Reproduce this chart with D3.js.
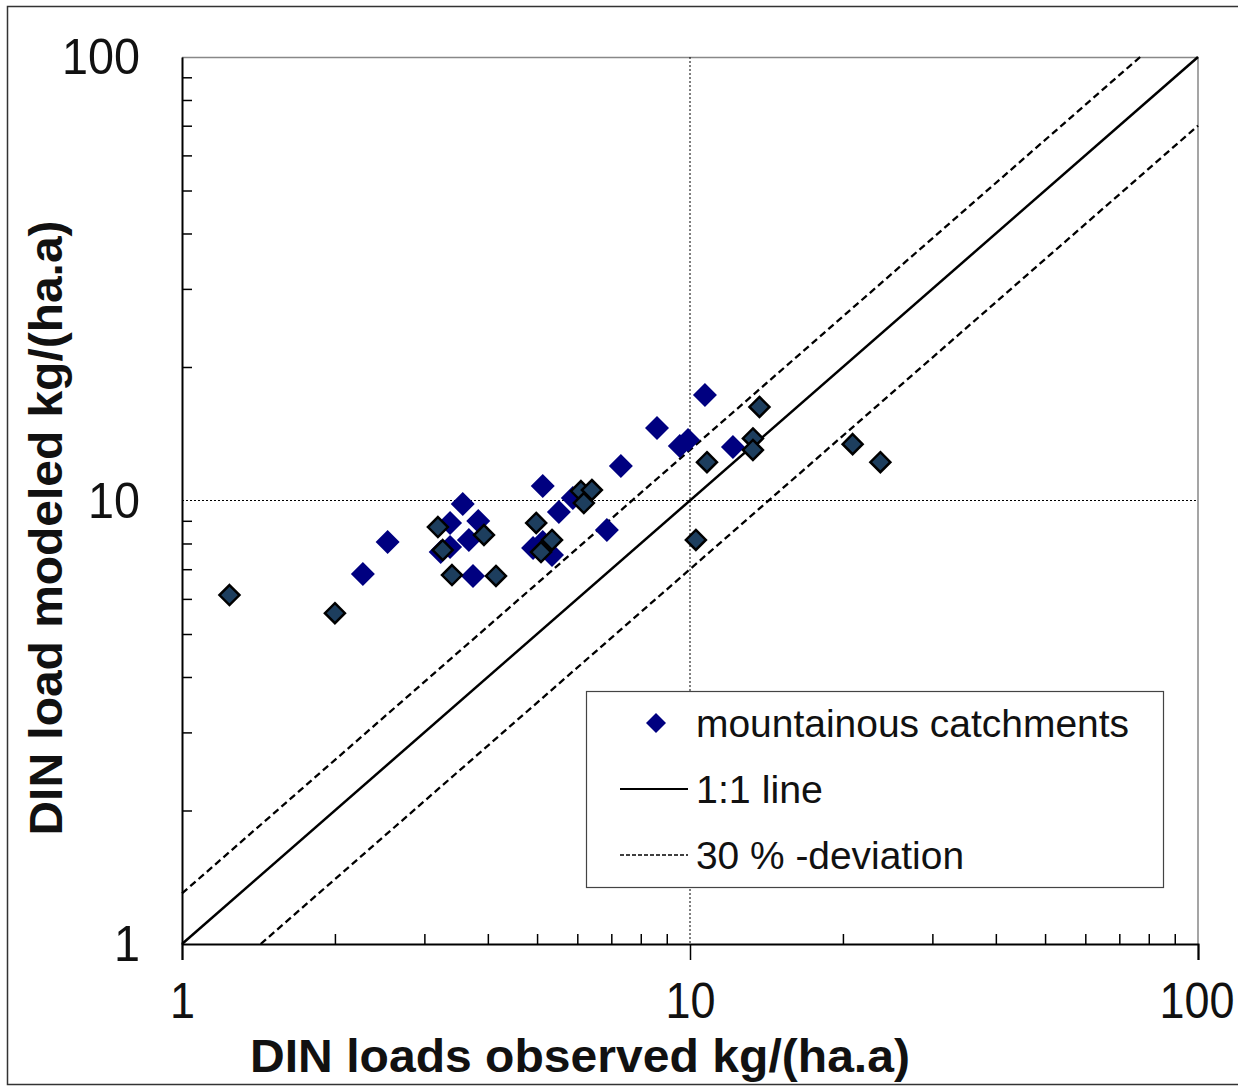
<!DOCTYPE html>
<html>
<head>
<meta charset="utf-8">
<script src="https://cdn.jsdelivr.net/npm/d3@7"></script>
<style>
  body { margin: 0; background: #fff; }
  svg text { font-family: "Liberation Sans", Arial, sans-serif; fill: #111; }
</style>
</head>
<body>
<div id="chart"></div>
<script>
// mountainous catchments (blue diamonds)
const mountObs = [2.27, 2.54, 3.57, 3.37, 3.83, 3.67, 3.23, 3.37, 3.74, 5.13, 5.88, 5.52, 6.86, 4.91, 5.13, 5.35, 7.31, 8.61, 9.55, 9.91, 10.7, 12.15];
const mountMod = [6.83, 8.06, 9.82, 8.90, 8.99, 8.15, 7.65, 7.86, 6.76, 10.78, 10.13, 9.42, 8.58, 7.81, 8.06, 7.54, 11.96, 14.57, 13.27, 13.69, 17.3, 13.2];

// other catchments (dark diamonds, not in legend)
const otherObs = [1.24, 2.00, 3.19, 3.93, 3.26, 3.40, 4.15, 4.98, 5.09, 5.35, 6.10, 6.41, 6.18, 10.27, 10.8, 13.7, 13.3, 13.3, 20.9, 23.7];
const otherMod = [6.12, 5.57, 8.71, 8.36, 7.73, 6.79, 6.76, 8.90, 7.65, 8.15, 10.5, 10.56, 9.87, 8.15, 12.2, 16.25, 13.8, 13.0, 13.4, 12.2];

const majorTicks = [1, 10, 100];
const minorTicks = [2, 3, 4, 5, 6, 7, 8, 9, 20, 30, 40, 50, 60, 70, 80, 90];
const deviation = 0.3;

const W = 1238, H = 1088;
const margin = { left: 182, right: 40, top: 57, bottom: 144 };
const iw = W - margin.left - margin.right;   // 1016
const ih = H - margin.top - margin.bottom;   // 887

const svg = d3.select("#chart").append("svg")
  .attr("width", W).attr("height", H);

// outer frame
svg.append("rect")
  .attr("x", 7.5).attr("y", 6.5)
  .attr("width", W).attr("height", 1078)
  .attr("fill", "none").attr("stroke", "#333").attr("stroke-width", 1.5);

const g = svg.append("g")
  .attr("transform", `translate(${margin.left}, ${margin.top})`);

const x = d3.scaleLog().domain([1, 100]).range([0, iw]);
const y = d3.scaleLog().domain([1, 100]).range([ih, 0]);

// top / right border
g.append("path")
  .attr("d", `M0,0.5H${iw}V${ih}`)
  .attr("fill", "none").attr("stroke", "#888").attr("stroke-width", 1.5);

// grid at 10
g.append("line")
  .attr("x1", x(10)).attr("x2", x(10)).attr("y1", 0).attr("y2", ih)
  .attr("stroke", "#000").attr("stroke-width", 1).attr("stroke-dasharray", "2,2");
g.append("line")
  .attr("x1", 0).attr("x2", iw).attr("y1", y(10)).attr("y2", y(10))
  .attr("stroke", "#000").attr("stroke-width", 1).attr("stroke-dasharray", "2,2");

// reference lines
const line = d3.line().x(d => x(d[0])).y(d => y(d[1]));
g.append("path")
  .attr("d", line([[1, 1], [100, 100]]))
  .attr("fill", "none").attr("stroke", "#000").attr("stroke-width", 2.5);
g.append("path")
  .attr("d", line([[1, 1 + deviation], [100 / (1 + deviation), 100]]))
  .attr("fill", "none").attr("stroke", "#000").attr("stroke-width", 2.3)
  .attr("stroke-dasharray", "7,4");
g.append("path")
  .attr("d", line([[1 / (1 - deviation), 1], [100, 100 * (1 - deviation)]]))
  .attr("fill", "none").attr("stroke", "#000").attr("stroke-width", 2.3)
  .attr("stroke-dasharray", "7,4");

// axes: major ticks outside (x), minor ticks inside
const digitW = 25;
const xMajor = d3.axisBottom(x).tickValues(majorTicks).tickSize(16).tickFormat(d3.format("d"));
g.append("g")
  .attr("class", "xAxis")
  .attr("transform", `translate(0, ${ih})`)
  .call(xMajor)
  .call(s => s.select(".domain").attr("stroke", "#000").attr("stroke-width", 2))
  .call(s => s.selectAll(".tick line").attr("stroke-width", 1.5))
  .selectAll("text")
    .attr("y", 74)
    .attr("dy", 0)
    .attr("x", d => d === 100 ? 36 : 0)
    .attr("text-anchor", d => d === 100 ? "end" : "middle")
    .attr("font-size", 50)
    .attr("textLength", d => String(d).length * digitW)
    .attr("lengthAdjust", "spacingAndGlyphs");

g.append("g")
  .attr("transform", `translate(0, ${ih})`)
  .call(d3.axisBottom(x).tickValues(minorTicks).tickSize(-10).tickFormat(""))
  .call(s => s.select(".domain").remove())
  .call(s => s.selectAll(".tick line").attr("stroke-width", 1.5));

const yMajor = d3.axisLeft(y).tickValues(majorTicks).tickSize(0).tickFormat(d3.format("d"));
g.append("g")
  .attr("class", "yAxis")
  .call(yMajor)
  .call(s => s.select(".domain").attr("stroke", "#000").attr("stroke-width", 2))
  .selectAll("text")
    .attr("x", -42)
    .attr("dy", "0.33em")
    .attr("font-size", 50)
    .attr("textLength", d => String(d).length * 26)
    .attr("lengthAdjust", "spacingAndGlyphs");

g.append("g")
  .call(d3.axisLeft(y).tickValues(minorTicks).tickSize(-10).tickFormat(""))
  .call(s => s.select(".domain").remove())
  .call(s => s.selectAll(".tick line").attr("stroke-width", 1.5));

// remove default fonts set by axis on the groups
g.selectAll(".xAxis, .yAxis").attr("font-family", null).attr("font-size", null);

// diamonds
const mountData = mountObs.map((v, i) => ({ obs: v, mod: mountMod[i] }));
const otherData = otherObs.map((v, i) => ({ obs: v, mod: otherMod[i] }));
const diamond = r => `M0,${-r}L${r},0L0,${r}L${-r},0Z`;

g.selectAll(".mount").data(mountData).enter()
  .append("path")
  .attr("class", "mount")
  .attr("d", diamond(12))
  .attr("transform", d => `translate(${x(d.obs)}, ${y(d.mod)})`)
  .attr("fill", "#000080");

g.selectAll(".other").data(otherData).enter()
  .append("path")
  .attr("class", "other")
  .attr("d", diamond(10))
  .attr("transform", d => `translate(${x(d.obs)}, ${y(d.mod)})`)
  .attr("fill", "#1d3e5e")
  .attr("stroke", "#000").attr("stroke-width", 2.5);

// axis titles
svg.append("text")
  .attr("x", 580).attr("y", 1072)
  .attr("text-anchor", "middle")
  .attr("font-size", 46).attr("font-weight", "bold")
  .attr("textLength", 660).attr("lengthAdjust", "spacingAndGlyphs")
  .text("DIN loads observed kg/(ha.a)");

svg.append("text")
  .attr("transform", "translate(62, 528) rotate(-90)")
  .attr("text-anchor", "middle")
  .attr("font-size", 46).attr("font-weight", "bold")
  .attr("textLength", 615).attr("lengthAdjust", "spacingAndGlyphs")
  .text("DIN load modeled kg/(ha.a)");

// legend
const lg = svg.append("g").attr("transform", "translate(586, 691)");
lg.append("rect")
  .attr("x", 0.5).attr("y", 0.5).attr("width", 577).attr("height", 196)
  .attr("fill", "#fff").attr("stroke", "#444").attr("stroke-width", 1.2);
lg.append("path")
  .attr("d", diamond(10))
  .attr("transform", "translate(70, 32)")
  .attr("fill", "#000080");
lg.append("text").attr("x", 110).attr("y", 46).attr("font-size", 38)
  .attr("textLength", 433).attr("lengthAdjust", "spacingAndGlyphs")
  .text("mountainous catchments");
lg.append("line").attr("x1", 34).attr("x2", 102).attr("y1", 98).attr("y2", 98)
  .attr("stroke", "#000").attr("stroke-width", 2);
lg.append("text").attr("x", 110).attr("y", 112).attr("font-size", 38)
  .attr("textLength", 127).attr("lengthAdjust", "spacingAndGlyphs")
  .text("1:1 line");
lg.append("line").attr("x1", 34).attr("x2", 102).attr("y1", 164).attr("y2", 164)
  .attr("stroke", "#000").attr("stroke-width", 1.5).attr("stroke-dasharray", "4,2");
lg.append("text").attr("x", 110).attr("y", 178).attr("font-size", 38)
  .attr("textLength", 268).attr("lengthAdjust", "spacingAndGlyphs")
  .text("30 % -deviation");
</script>
</body>
</html>
